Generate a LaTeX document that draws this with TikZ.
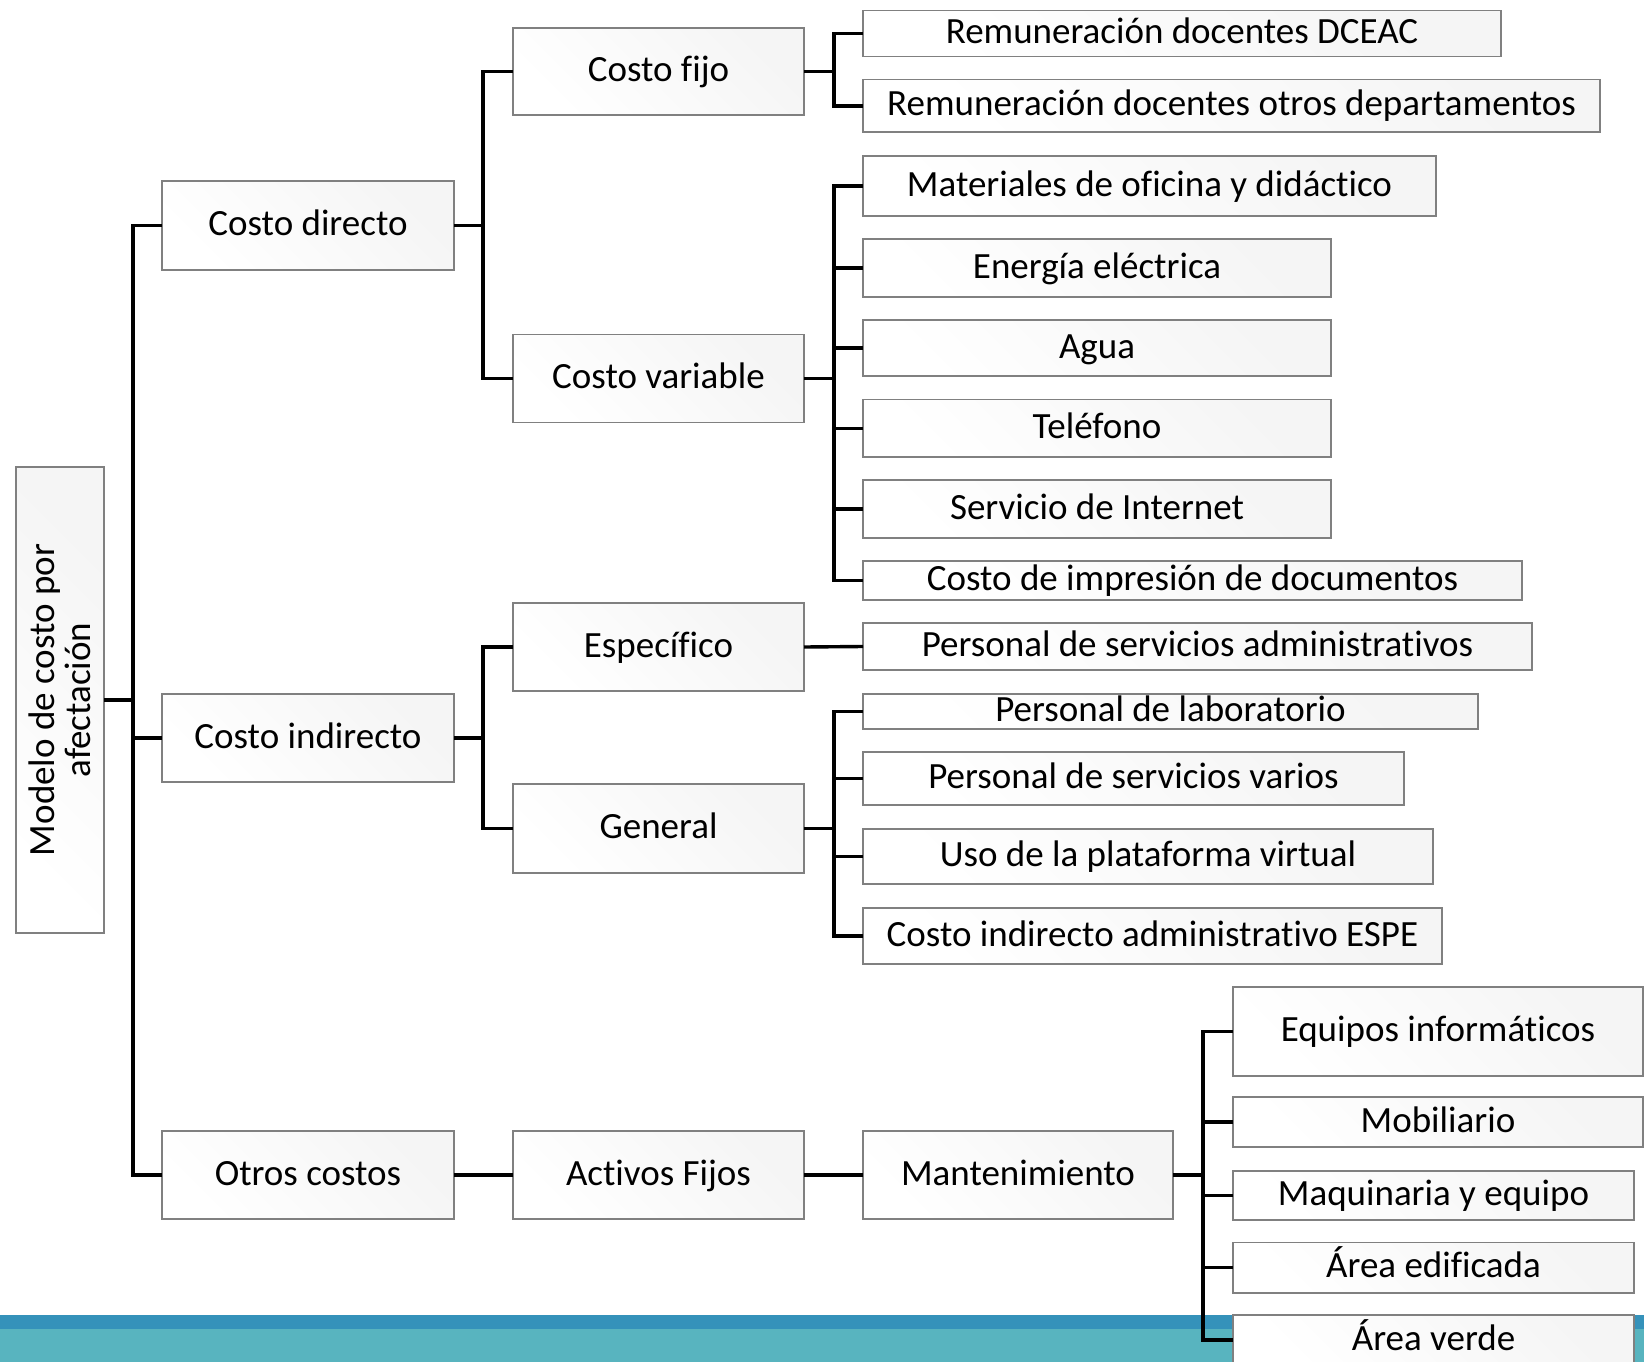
\documentclass[tikz,border=0pt]{standalone}
\usepackage{fontspec}
\setmainfont[Ligatures=NoCommon]{Carlito}
\definecolor{bord}{HTML}{808080}
\definecolor{barblue}{HTML}{3592BA}
\definecolor{barteal}{HTML}{58B4BF}
\begin{document}
\begin{tikzpicture}[x=1pt,y=-1pt,
  boxbase/.style={draw=bord, line width=1.3pt, top color=white, bottom color=black!4, shading angle=135,
    inner sep=0pt, outer sep=0pt, font=\fontsize{37}{36}\selectfont},
  box/.style={boxbase, text height=27pt, text depth=7pt},
  con/.style={line width=3.4pt, draw=black}]
\useasboundingbox (0,0) rectangle (1644,1362);
\fill[barblue] (0,1315) rectangle (1644,1329);
\fill[barteal] (0,1329) rectangle (1644,1362);
\newcommand\drawbox[6]{\node[box, minimum width={(#4)-(#2)}, minimum height={(#5)-(#3)}] (#1) at ({((#2)+(#4))/2},{((#3)+(#5))/2}) {#6};}
\newcommand\elbow[3]{\draw[con] (#1.east) -- (#1.east -| #2) |- (#3.west);}
% root
\node[boxbase, minimum width=88, minimum height=466,
  label={[rotate=90, align=center, font=\fontsize{37}{36}\selectfont]center:Modelo de costo por\\afectación}] (root) at (60,700) {};
% level 1
\drawbox{cd}{162}{181}{454}{270}{Costo directo}
\drawbox{ci}{162}{694}{454}{782}{Costo indirecto}
\drawbox{oc}{162}{1131}{454}{1219}{Otros costos}
% level 2
\drawbox{cf}{513}{28}{804}{115}{Costo fijo}
\drawbox{cv}{513}{334.5}{804}{422.5}{Costo variable}
\drawbox{es}{513}{603}{804}{691}{Específico}
\drawbox{ge}{513}{784}{804}{873}{General}
\drawbox{af}{513}{1131}{804}{1219}{Activos Fijos}
% level 3
\drawbox{ra}{863}{10.5}{1501}{56.6}{Remuneración docentes DCEAC}
\drawbox{rb}{863}{79.7}{1600}{132.1}{Remuneración docentes otros departamentos}
\drawbox{ma}{863}{156}{1436}{216}{Materiales de oficina y didáctico}
\drawbox{ee}{863}{239}{1331}{297}{Energía eléctrica}
\drawbox{ag}{863}{320}{1331}{376}{Agua}
\drawbox{te}{863}{399.5}{1331}{457}{Teléfono}
\drawbox{si}{863}{480}{1331}{538}{Servicio de Internet}
\drawbox{im}{863}{561}{1522}{600}{Costo de impresión de documentos}
\drawbox{pa}{863}{623}{1532}{670}{Personal de servicios administrativos}
\drawbox{pl}{863}{694}{1478}{729}{Personal de laboratorio}
\drawbox{pv}{863}{752}{1404}{805}{Personal de servicios varios}
\drawbox{up}{863}{829}{1433}{884}{Uso de la plataforma virtual}
\drawbox{ia}{863}{908}{1442}{964}{Costo indirecto administrativo ESPE}
\drawbox{mt}{863}{1131}{1173}{1219}{Mantenimiento}
% level 4
\drawbox{eq}{1233}{987}{1643}{1076}{Equipos informáticos}
\drawbox{mo}{1233}{1097}{1643}{1147}{Mobiliario}
\drawbox{mq}{1233}{1171}{1634}{1220}{Maquinaria y equipo}
\drawbox{ae}{1233}{1242.5}{1634}{1293}{Área edificada}
\drawbox{av}{1233}{1315}{1634}{1365}{Área verde}
% trunks
\coordinate (t0) at (133,0);
\coordinate (t1) at (483,0);
\coordinate (t2) at (834,0);
\coordinate (t3) at (1203,0);
% connectors
\elbow{root}{t0}{cd}
\elbow{root}{t0}{ci}
\elbow{root}{t0}{oc}
\elbow{cd}{t1}{cf}
\elbow{cd}{t1}{cv}
\elbow{ci}{t1}{es}
\elbow{ci}{t1}{ge}
\draw[con] (oc.east) -- (af.west);
\draw[con] (af.east) -- (mt.west);
\elbow{cf}{t2}{ra}
\elbow{cf}{t2}{rb}
\foreach \c in {ma,ee,ag,te,si,im} {\elbow{cv}{t2}{\c}}
\draw[con] (es.east) -- (pa.west);
\foreach \c in {pl,pv,up,ia} {\elbow{ge}{t2}{\c}}
\foreach \c in {eq,mo,mq,ae,av} {\elbow{mt}{t3}{\c}}
\end{tikzpicture}
\end{document}
